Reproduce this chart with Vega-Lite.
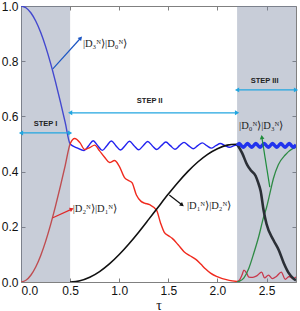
{
  "$schema": "https://vega.github.io/schema/vega-lite/v6.json",
  "autosize": "none",
  "width": 275,
  "height": 276,
  "padding": {"left": 21, "top": 6, "right": 4, "bottom": 29},
  "background": "white",
  "config": {
    "view": {"stroke": "#808080", "strokeWidth": 1},
    "axis": {"grid": false, "domain": false, "tickColor": "#808080", "tickSize": -4, "labelFont": "Liberation Sans", "labelFontSize": 12, "labelColor": "#111111", "labelPadding": 7, "titleFont": "Liberation Serif", "titleFontSize": 14, "titleFontWeight": "normal", "titleColor": "#111111"}
  },
  "resolve": {"axis": {"x": "independent", "y": "independent"}},
  "datasets": {
    "curves": [
      {"series": "b1", "tau": 0.0, "p": 1.0}, {"series": "b1", "tau": 0.05, "p": 0.9938}, {"series": "b1", "tau": 0.1, "p": 0.9755}, {"series": "b1", "tau": 0.15, "p": 0.9455}, {"series": "b1", "tau": 0.2, "p": 0.9045}, {"series": "b1", "tau": 0.25, "p": 0.8536}, {"series": "b1", "tau": 0.3, "p": 0.7939}, {"series": "b1", "tau": 0.35, "p": 0.727}, {"series": "b1", "tau": 0.4, "p": 0.6545}, {"series": "b1", "tau": 0.45, "p": 0.5782}, {"series": "b1", "tau": 0.5, "p": 0.5},
      {"series": "b1", "tau": 0.57, "p": 0.486}, {"series": "b1", "tau": 0.6425, "p": 0.476}, {"series": "b1", "tau": 0.689, "p": 0.494}, {"series": "b1", "tau": 0.735, "p": 0.512}, {"series": "b1", "tau": 0.781, "p": 0.494}, {"series": "b1", "tau": 0.8275, "p": 0.477}, {"series": "b1", "tau": 0.874, "p": 0.494}, {"series": "b1", "tau": 0.92, "p": 0.511}, {"series": "b1", "tau": 0.966, "p": 0.494}, {"series": "b1", "tau": 1.0125, "p": 0.478}, {"series": "b1", "tau": 1.059, "p": 0.494}, {"series": "b1", "tau": 1.105, "p": 0.51}, {"series": "b1", "tau": 1.151, "p": 0.494}, {"series": "b1", "tau": 1.1975, "p": 0.479}, {"series": "b1", "tau": 1.244, "p": 0.494}, {"series": "b1", "tau": 1.29, "p": 0.509}, {"series": "b1", "tau": 1.336, "p": 0.494}, {"series": "b1", "tau": 1.3825, "p": 0.48}, {"series": "b1", "tau": 1.429, "p": 0.494}, {"series": "b1", "tau": 1.475, "p": 0.507}, {"series": "b1", "tau": 1.521, "p": 0.494}, {"series": "b1", "tau": 1.5675, "p": 0.481}, {"series": "b1", "tau": 1.614, "p": 0.494}, {"series": "b1", "tau": 1.66, "p": 0.506}, {"series": "b1", "tau": 1.706, "p": 0.494}, {"series": "b1", "tau": 1.7525, "p": 0.483}, {"series": "b1", "tau": 1.799, "p": 0.494}, {"series": "b1", "tau": 1.845, "p": 0.504}, {"series": "b1", "tau": 1.891, "p": 0.494}, {"series": "b1", "tau": 1.9375, "p": 0.485}, {"series": "b1", "tau": 1.984, "p": 0.494}, {"series": "b1", "tau": 2.03, "p": 0.502}, {"series": "b1", "tau": 2.076, "p": 0.494}, {"series": "b1", "tau": 2.1225, "p": 0.488}, {"series": "b1", "tau": 2.17, "p": 0.494}, {"series": "b1", "tau": 2.2, "p": 0.497},
      {"series": "b3", "tau": 2.2, "p": 0.495}, {"series": "b3", "tau": 2.221, "p": 0.502}, {"series": "b3", "tau": 2.2425, "p": 0.495}, {"series": "b3", "tau": 2.264, "p": 0.488}, {"series": "b3", "tau": 2.285, "p": 0.495}, {"series": "b3", "tau": 2.306, "p": 0.502}, {"series": "b3", "tau": 2.3275, "p": 0.495}, {"series": "b3", "tau": 2.349, "p": 0.488}, {"series": "b3", "tau": 2.37, "p": 0.495}, {"series": "b3", "tau": 2.391, "p": 0.502}, {"series": "b3", "tau": 2.4125, "p": 0.495}, {"series": "b3", "tau": 2.434, "p": 0.488}, {"series": "b3", "tau": 2.455, "p": 0.495}, {"series": "b3", "tau": 2.476, "p": 0.502}, {"series": "b3", "tau": 2.4975, "p": 0.495}, {"series": "b3", "tau": 2.519, "p": 0.488}, {"series": "b3", "tau": 2.54, "p": 0.495}, {"series": "b3", "tau": 2.561, "p": 0.502}, {"series": "b3", "tau": 2.5825, "p": 0.495}, {"series": "b3", "tau": 2.604, "p": 0.488}, {"series": "b3", "tau": 2.625, "p": 0.495}, {"series": "b3", "tau": 2.646, "p": 0.502}, {"series": "b3", "tau": 2.6675, "p": 0.495}, {"series": "b3", "tau": 2.689, "p": 0.488}, {"series": "b3", "tau": 2.71, "p": 0.495}, {"series": "b3", "tau": 2.731, "p": 0.502}, {"series": "b3", "tau": 2.7525, "p": 0.495}, {"series": "b3", "tau": 2.774, "p": 0.488}, {"series": "b3", "tau": 2.795, "p": 0.495}, {"series": "b3", "tau": 2.8, "p": 0.497},
      {"series": "r", "tau": 0.0, "p": 0.0}, {"series": "r", "tau": 0.05, "p": 0.0062}, {"series": "r", "tau": 0.1, "p": 0.0245}, {"series": "r", "tau": 0.15, "p": 0.0545}, {"series": "r", "tau": 0.2, "p": 0.0955}, {"series": "r", "tau": 0.25, "p": 0.1464}, {"series": "r", "tau": 0.3, "p": 0.2061}, {"series": "r", "tau": 0.35, "p": 0.273}, {"series": "r", "tau": 0.4, "p": 0.3455}, {"series": "r", "tau": 0.45, "p": 0.4218}, {"series": "r", "tau": 0.5, "p": 0.5},
      {"series": "r", "tau": 0.547, "p": 0.52}, {"series": "r", "tau": 0.6, "p": 0.505}, {"series": "r", "tau": 0.648, "p": 0.48}, {"series": "r", "tau": 0.7, "p": 0.487}, {"series": "r", "tau": 0.75, "p": 0.496}, {"series": "r", "tau": 0.8, "p": 0.475}, {"series": "r", "tau": 0.851, "p": 0.452}, {"series": "r", "tau": 0.902, "p": 0.433}, {"series": "r", "tau": 0.952, "p": 0.44}, {"series": "r", "tau": 1.0, "p": 0.42}, {"series": "r", "tau": 1.054, "p": 0.378}, {"series": "r", "tau": 1.104, "p": 0.366}, {"series": "r", "tau": 1.13, "p": 0.36}, {"series": "r", "tau": 1.175, "p": 0.315}, {"series": "r", "tau": 1.22, "p": 0.293}, {"series": "r", "tau": 1.256, "p": 0.286}, {"series": "r", "tau": 1.31, "p": 0.28}, {"series": "r", "tau": 1.38, "p": 0.26}, {"series": "r", "tau": 1.42, "p": 0.215}, {"series": "r", "tau": 1.459, "p": 0.18}, {"series": "r", "tau": 1.5, "p": 0.168}, {"series": "r", "tau": 1.54, "p": 0.158}, {"series": "r", "tau": 1.6, "p": 0.135}, {"series": "r", "tau": 1.66, "p": 0.11}, {"series": "r", "tau": 1.72, "p": 0.095}, {"series": "r", "tau": 1.78, "p": 0.082}, {"series": "r", "tau": 1.83, "p": 0.065}, {"series": "r", "tau": 1.88, "p": 0.047}, {"series": "r", "tau": 1.93, "p": 0.032}, {"series": "r", "tau": 1.99, "p": 0.02}, {"series": "r", "tau": 2.05, "p": 0.012}, {"series": "r", "tau": 2.12, "p": 0.006}, {"series": "r", "tau": 2.2, "p": 0.002},
      {"series": "r3", "tau": 2.2, "p": 0.002}, {"series": "r3", "tau": 2.22, "p": 0.005}, {"series": "r3", "tau": 2.25, "p": 0.025}, {"series": "r3", "tau": 2.27, "p": 0.043}, {"series": "r3", "tau": 2.3, "p": 0.03}, {"series": "r3", "tau": 2.32, "p": 0.018}, {"series": "r3", "tau": 2.36, "p": 0.017}, {"series": "r3", "tau": 2.4, "p": 0.022}, {"series": "r3", "tau": 2.45, "p": 0.036}, {"series": "r3", "tau": 2.48, "p": 0.015}, {"series": "r3", "tau": 2.52, "p": 0.025}, {"series": "r3", "tau": 2.56, "p": 0.012}, {"series": "r3", "tau": 2.6, "p": 0.02}, {"series": "r3", "tau": 2.65, "p": 0.036}, {"series": "r3", "tau": 2.69, "p": 0.01}, {"series": "r3", "tau": 2.73, "p": 0.02}, {"series": "r3", "tau": 2.77, "p": 0.012}, {"series": "r3", "tau": 2.8, "p": 0.018},
      {"series": "k2", "tau": 0.5, "p": 0.0}, {"series": "k2", "tau": 0.6, "p": 0.0043}, {"series": "k2", "tau": 0.7, "p": 0.0169}, {"series": "k2", "tau": 0.8, "p": 0.0375}, {"series": "k2", "tau": 0.9, "p": 0.0653}, {"series": "k2", "tau": 1.0, "p": 0.0994}, {"series": "k2", "tau": 1.1, "p": 0.1386}, {"series": "k2", "tau": 1.2, "p": 0.1815}, {"series": "k2", "tau": 1.3, "p": 0.2269}, {"series": "k2", "tau": 1.4, "p": 0.273}, {"series": "k2", "tau": 1.5, "p": 0.3184}, {"series": "k2", "tau": 1.6, "p": 0.3614}, {"series": "k2", "tau": 1.7, "p": 0.4007}, {"series": "k2", "tau": 1.8, "p": 0.4348}, {"series": "k2", "tau": 1.9, "p": 0.4626}, {"series": "k2", "tau": 2.0, "p": 0.4831}, {"series": "k2", "tau": 2.1, "p": 0.4958}, {"series": "k2", "tau": 2.2, "p": 0.499},
      {"series": "k3", "tau": 2.2, "p": 0.499}, {"series": "k3", "tau": 2.252, "p": 0.467}, {"series": "k3", "tau": 2.303, "p": 0.424}, {"series": "k3", "tau": 2.337, "p": 0.406}, {"series": "k3", "tau": 2.388, "p": 0.385}, {"series": "k3", "tau": 2.415, "p": 0.36}, {"series": "k3", "tau": 2.44, "p": 0.33}, {"series": "k3", "tau": 2.47, "p": 0.26}, {"series": "k3", "tau": 2.5, "p": 0.21}, {"series": "k3", "tau": 2.57, "p": 0.152}, {"series": "k3", "tau": 2.624, "p": 0.116}, {"series": "k3", "tau": 2.675, "p": 0.069}, {"series": "k3", "tau": 2.725, "p": 0.033}, {"series": "k3", "tau": 2.776, "p": 0.012}, {"series": "k3", "tau": 2.8, "p": 0.006},
      {"series": "g3", "tau": 2.2, "p": 0.0}, {"series": "g3", "tau": 2.22, "p": 0.002}, {"series": "g3", "tau": 2.27, "p": 0.015}, {"series": "g3", "tau": 2.32, "p": 0.05}, {"series": "g3", "tau": 2.37, "p": 0.104}, {"series": "g3", "tau": 2.42, "p": 0.164}, {"series": "g3", "tau": 2.47, "p": 0.235}, {"series": "g3", "tau": 2.5, "p": 0.27}, {"series": "g3", "tau": 2.54, "p": 0.33}, {"series": "g3", "tau": 2.57, "p": 0.375}, {"series": "g3", "tau": 2.62, "p": 0.425}, {"series": "g3", "tau": 2.69, "p": 0.46}, {"series": "g3", "tau": 2.77, "p": 0.484}, {"series": "g3", "tau": 2.8, "p": 0.488}
    ],
    "shade": [{"a": 0.0, "b": 0.5}, {"a": 2.2, "b": 2.8}],
    "labels": [
      {"name": "blue", "txt": "|D₃ᴺ⟩|D₀ᴺ⟩", "tx": 0.63, "ty": 0.862, "bx": 0.324, "by": 0.772, "hx": 0.608, "hy": 0.884},
      {"name": "red", "txt": "|D₂ᴺ⟩|D₁ᴺ⟩", "tx": 0.527, "ty": 0.263, "bx": 0.324, "by": 0.233, "hx": 0.517, "hy": 0.264},
      {"name": "black", "txt": "|D₁ᴺ⟩|D₂ᴺ⟩", "tx": 1.69, "ty": 0.275, "bx": 1.51, "by": 0.315, "hx": 1.641, "hy": 0.279},
      {"name": "green", "txt": "|D₀ᴺ⟩|D₃ᴺ⟩", "tx": 2.22, "ty": 0.565, "bx": 2.533, "by": 0.344, "hx": 2.452, "hy": 0.525}
    ],
    "steps": [
      {"lab": "STEP I", "x1": 0.0, "x2": 0.5, "ya": 0.54, "tx": 0.25, "ty": 0.572},
      {"lab": "STEP II", "x1": 0.5, "x2": 2.2, "ya": 0.613, "tx": 1.31, "ty": 0.656},
      {"lab": "STEP III", "x1": 2.2, "x2": 2.8, "ya": 0.696, "tx": 2.48, "ty": 0.728}
    ]
  },
  "layer": [
    {
      "resolve": {"scale": {"color": "independent"}},
      "layer": [
        {
          "data": {"name": "curves"},
          "transform": [{"filter": "datum.series === 'b1'"}],
          "mark": {"type": "line", "interpolate": "monotone", "clip": true, "color": "#2222f0", "strokeWidth": 1.4},
          "encoding": {
            "x": {"field": "tau", "type": "quantitative", "scale": {"domain": [0, 2.8], "nice": false}, "axis": {"values": [0, 0.5, 1, 1.5, 2, 2.5], "format": ".1f", "title": "τ", "titlePadding": 2}},
            "y": {"field": "p", "type": "quantitative", "scale": {"domain": [0, 1], "nice": false}, "axis": {"values": [0, 0.2, 0.4, 0.6, 0.8, 1.0], "format": ".1f", "title": null}}
          }
        },
        {
          "data": {"name": "curves"},
          "transform": [{"filter": "datum.series === 'r'"}],
          "mark": {"type": "line", "interpolate": "monotone", "clip": true, "color": "#f02a1e", "strokeWidth": 1.4},
          "encoding": {"x": {"field": "tau", "type": "quantitative"}, "y": {"field": "p", "type": "quantitative"}}
        },
        {
          "data": {"name": "curves"},
          "transform": [{"filter": "datum.series === 'k2'"}],
          "mark": {"type": "line", "interpolate": "monotone", "clip": true, "color": "#111111", "strokeWidth": 1.6},
          "encoding": {"x": {"field": "tau", "type": "quantitative"}, "y": {"field": "p", "type": "quantitative"}}
        },
        {
          "data": {"name": "shade"},
          "mark": {"type": "rect", "fill": "#75829d", "opacity": 0.4},
          "encoding": {
            "x": {"field": "a", "type": "quantitative"},
            "x2": {"field": "b"},
            "y": {"datum": 0, "type": "quantitative"},
            "y2": {"datum": 1}
          }
        },
        {
          "data": {"name": "curves"},
          "transform": [{"filter": "datum.series === 'r3'"}],
          "mark": {"type": "line", "interpolate": "monotone", "clip": true, "color": "#c8384c", "strokeWidth": 1.3},
          "encoding": {"x": {"field": "tau", "type": "quantitative"}, "y": {"field": "p", "type": "quantitative"}}
        },
        {
          "data": {"name": "curves"},
          "transform": [{"filter": "datum.series === 'g3'"}],
          "mark": {"type": "line", "interpolate": "monotone", "clip": true, "color": "#2f8a45", "strokeWidth": 1.3},
          "encoding": {"x": {"field": "tau", "type": "quantitative"}, "y": {"field": "p", "type": "quantitative"}}
        },
        {
          "data": {"name": "curves"},
          "transform": [{"filter": "datum.series === 'k3'"}],
          "mark": {"type": "line", "interpolate": "monotone", "clip": true, "color": "#2b2f36", "strokeWidth": 2.6},
          "encoding": {"x": {"field": "tau", "type": "quantitative"}, "y": {"field": "p", "type": "quantitative"}}
        },
        {
          "data": {"name": "curves"},
          "transform": [{"filter": "datum.series === 'b3'"}],
          "mark": {"type": "line", "interpolate": "monotone", "clip": true, "color": "#2233ee", "strokeWidth": 3.4},
          "encoding": {"x": {"field": "tau", "type": "quantitative"}, "y": {"field": "p", "type": "quantitative"}}
        },
        {
          "data": {"name": "labels"},
          "mark": {"type": "rule", "strokeWidth": 1.2},
          "encoding": {
            "x": {"field": "bx", "type": "quantitative"},
            "y": {"field": "by", "type": "quantitative"},
            "x2": {"field": "hx"},
            "y2": {"field": "hy"},
            "color": {"field": "name", "type": "nominal", "legend": null, "scale": {"domain": ["blue", "red", "black", "green"], "range": ["#1c56c4", "#e02828", "#111111", "#1e8c3c"]}}
          }
        },
        {
          "data": {"name": "labels"},
          "transform": [{"calculate": "atan2((datum.hx - datum.bx) * 98.2, (datum.hy - datum.by) * 276) * 180 / PI", "as": "ang"}],
          "mark": {"type": "point", "shape": "triangle-up", "filled": true, "size": 22, "opacity": 1},
          "encoding": {
            "x": {"field": "hx", "type": "quantitative"},
            "y": {"field": "hy", "type": "quantitative"},
            "angle": {"field": "ang", "type": "quantitative", "scale": null},
            "color": {"field": "name", "type": "nominal", "legend": null, "scale": {"domain": ["blue", "red", "black", "green"], "range": ["#1c56c4", "#e02828", "#111111", "#1e8c3c"]}}
          }
        },
        {
          "data": {"name": "labels"},
          "mark": {"type": "text", "align": "left", "baseline": "middle", "font": "Liberation Serif", "fontSize": 10.5, "color": "#222222"},
          "encoding": {
            "x": {"field": "tx", "type": "quantitative"},
            "y": {"field": "ty", "type": "quantitative"},
            "text": {"field": "txt"}
          }
        },
        {
          "data": {"name": "steps"},
          "mark": {"type": "rule", "color": "#22a6e0", "strokeWidth": 1.3},
          "encoding": {
            "x": {"field": "x1", "type": "quantitative"},
            "x2": {"field": "x2"},
            "y": {"field": "ya", "type": "quantitative"}
          }
        },
        {
          "data": {"name": "steps"},
          "mark": {"type": "point", "shape": "triangle-left", "filled": true, "size": 24, "color": "#22a6e0", "opacity": 1, "dx": 3},
          "encoding": {
            "x": {"field": "x1", "type": "quantitative"},
            "y": {"field": "ya", "type": "quantitative"}
          }
        },
        {
          "data": {"name": "steps"},
          "mark": {"type": "point", "shape": "triangle-right", "filled": true, "size": 24, "color": "#22a6e0", "opacity": 1, "dx": -3},
          "encoding": {
            "x": {"field": "x2", "type": "quantitative"},
            "y": {"field": "ya", "type": "quantitative"}
          }
        },
        {
          "data": {"name": "steps"},
          "mark": {"type": "text", "align": "center", "baseline": "middle", "font": "Liberation Sans", "fontWeight": "bold", "fontSize": 7.5, "color": "#222222"},
          "encoding": {
            "x": {"field": "tx", "type": "quantitative"},
            "y": {"field": "ty", "type": "quantitative"},
            "text": {"field": "lab"}
          }
        }
      ]
    },
    {
      "data": {"name": "shade"},
      "mark": {"type": "rule", "opacity": 0},
      "encoding": {
        "x": {"field": "a", "type": "quantitative", "axis": {"orient": "top", "values": [0, 0.5, 1, 1.5, 2, 2.5], "labels": false, "title": null}},
        "y": {"field": "a", "type": "quantitative", "axis": {"orient": "right", "values": [0, 0.2, 0.4, 0.6, 0.8, 1.0], "labels": false, "title": null}}
      }
    }
  ]
}
